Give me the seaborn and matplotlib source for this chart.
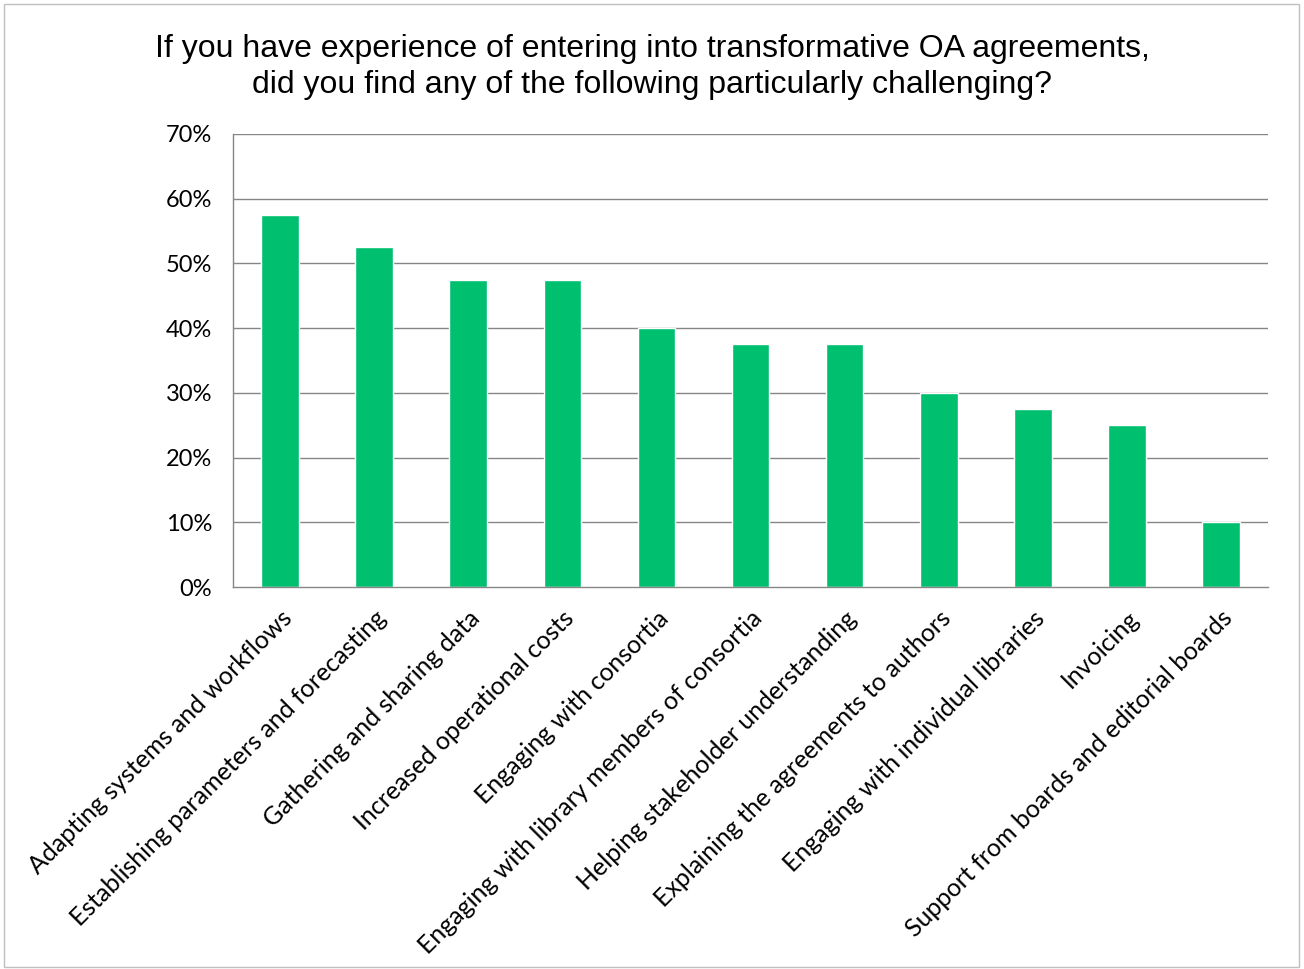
import numpy as np
import pandas as pd
import matplotlib
matplotlib.use("Agg")
import matplotlib.pyplot as plt
import seaborn as sns
from matplotlib.ticker import PercentFormatter, FixedLocator
from matplotlib.patches import Rectangle

categories = [
    "Adapting systems and workflows",
    "Establishing parameters and forecasting",
    "Gathering and sharing data",
    "Increased operational costs",
    "Engaging with consortia",
    "Engaging with library members of consortia",
    "Helping stakeholder understanding",
    "Explaining the agreements to authors",
    "Engaging with individual libraries",
    "Invoicing",
    "Support from boards and editorial boards",
]
share = [0.575, 0.525, 0.475, 0.475, 0.40, 0.375, 0.375, 0.30, 0.275, 0.25, 0.10]
y_ticks = [0.0, 0.1, 0.2, 0.3, 0.4, 0.5, 0.6, 0.7]

title = ("If you have experience of entering into transformative OA agreements,\n"
         "did you find any of the following particularly challenging?")

sns.set_theme(style="white")
plt.rcParams["font.family"] = ["Lato", "DejaVu Sans"]

df = pd.DataFrame({"Challenge": categories, "Share": share})

fig = plt.figure(figsize=(13.04, 9.69), dpi=100)
ax = fig.add_axes([233 / 1304, 1 - 587 / 969, (1268 - 233) / 1304, (587 - 134) / 969])

grid_col = "#868686"
sns.barplot(data=df, x="Challenge", y="Share", color="#00BF6F", width=0.4,
            saturation=1, ax=ax, zorder=2)

ax.set_ylim(0, 0.7)
ax.set_xlim(-0.5, len(categories) - 0.5)
ax.yaxis.set_major_locator(FixedLocator(y_ticks))
ax.yaxis.set_major_formatter(PercentFormatter(1.0, decimals=0))
for t in y_ticks[1:]:
    ax.axhline(t, color=grid_col, lw=1.0, zorder=1)

ax.set_xlabel("")
ax.set_ylabel("")
for side in ["top", "right"]:
    ax.spines[side].set_visible(False)
for side in ["left", "bottom"]:
    ax.spines[side].set_color(grid_col)
    ax.spines[side].set_linewidth(1.0)

ax.set_xticks(np.arange(len(categories)))
ax.set_xticklabels(categories, rotation=45, ha="right", rotation_mode="anchor",
                   fontsize=18, color="#000000")
ax.tick_params(axis="x", which="major", length=0, pad=14)
ax.set_xticks(np.arange(len(categories) + 1) - 0.5, minor=True)
ax.tick_params(axis="x", which="minor", length=7, color=grid_col, width=1.0, direction="out")
ax.tick_params(axis="y", length=7, color=grid_col, width=1.0, direction="out",
               labelsize=17, pad=8)
ax.tick_params(axis="y", labelcolor="#000000")

fig.text(0.5, 1 - 67 / 969, title, ha="center", va="center", fontsize=23,
         color="#000000", family=["Liberation Sans", "DejaVu Sans"], linespacing=1.22)

fig.patches.append(Rectangle((4 / 1304, 2 / 969), 1 - 9 / 1304, 1 - 6 / 969,
                             transform=fig.transFigure, fill=False,
                             edgecolor="#BFBFBF", lw=1.0))

fig.savefig("out.png", dpi=100)
